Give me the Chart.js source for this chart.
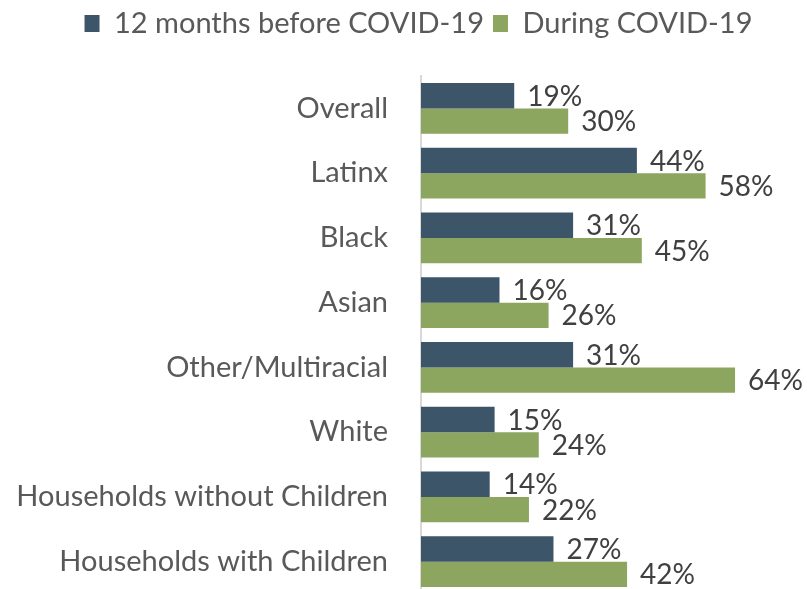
<!DOCTYPE html>
<html>
<head>
<meta charset="utf-8">
<script src="https://cdn.jsdelivr.net/npm/chart.js@4/dist/chart.umd.min.js"></script>
<style>
  html, body { margin: 0; padding: 0; background: #fff; overflow: hidden; }
</style>
</head>
<body>
<canvas id="foodChart" width="807" height="594"></canvas>
<script>
const categories = ['Overall', 'Latinx', 'Black', 'Asian', 'Other/Multiracial', 'White',
    'Households without Children', 'Households with Children'];
const before = [19, 44, 31, 16, 31, 15, 14, 27];
const during = [30, 58, 45, 26, 64, 24, 22, 42];

const FONT = 'Lato, "Open Sans", sans-serif';

// draws the % numbers at the end of each bar
const valueLabels = {
    id: 'valueLabels',
    afterDatasetsDraw(chart) {
        const ctx = chart.ctx;
        ctx.save();
        ctx.font = '28px ' + FONT;
        ctx.fillStyle = '#404040';
        ctx.textAlign = 'left';
        ctx.textBaseline = 'middle';
        chart.data.datasets.forEach((ds, i) => {
            chart.getDatasetMeta(i).data.forEach((bar, j) => {
                ctx.fillText(ds.data[j] + '%', bar.x + 13, bar.y + 1);
            });
        });
        ctx.restore();
    }
};

// extra space under the legend, and legend nudged a bit to the right
const legendTweak = {
    id: 'legendTweak',
    beforeInit(chart) {
        const lg = chart.legend;
        const fit = lg.fit;
        const draw = lg.draw;
        lg.fit = function () {
            fit.call(this);
            this.height = 76;
        };
        lg.draw = function (area) {
            const ctx = this.ctx;
            ctx.save();
            ctx.translate(24, 0);
            draw.call(this, area);
            ctx.restore();
        };
    }
};

new Chart(document.getElementById('foodChart'), {
    type: 'bar',
    data: {
        labels: categories,
        datasets: [
            { label: '12 months before COVID-19', data: before, backgroundColor: '#3d5568' },
            { label: 'During COVID-19', data: during, backgroundColor: '#8ca65f' }
        ]
    },
    options: {
        indexAxis: 'y',
        responsive: false,
        animation: false,
        categoryPercentage: 0.78,
        barPercentage: 1.0,
        layout: { padding: { top: 0, right: 18, left: 0, bottom: 0 } },
        plugins: {
            legend: {
                position: 'top',
                labels: {
                    boxWidth: 15,
                    boxHeight: 17,
                    padding: 9,
                    color: '#595959',
                    font: { family: FONT, size: 29 }
                }
            },
            tooltip: { enabled: false }
        },
        scales: {
            x: {
                display: false,
                min: 0,
                max: 75
            },
            y: {
                afterFit(scale) {
                    scale.width = 421;
                    // tick padding would otherwise be added above/below the bars
                    scale.paddingTop = 0;
                    scale.paddingBottom = 0;
                },
                grid: { display: false, drawTicks: false },
                border: { display: true, color: '#d9d9d9', width: 2 },
                ticks: {
                    padding: 33,
                    color: '#595959',
                    font: { family: FONT, size: 29 }
                }
            }
        }
    },
    plugins: [valueLabels, legendTweak]
});
</script>
</body>
</html>
